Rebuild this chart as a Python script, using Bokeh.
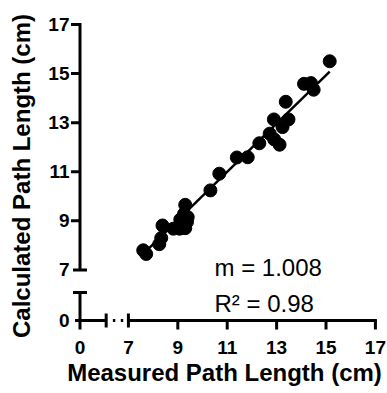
from bokeh.plotting import figure
from bokeh.models import FixedTicker, Label
from bokeh.embed import file_html
from bokeh.resources import INLINE

# ---------------- data ----------------
measured = [15.15, 14.11, 14.39, 14.50, 13.37, 12.89, 13.48, 13.24, 12.72, 12.90,
            13.12, 12.30, 11.83, 11.39, 10.68, 10.32, 9.30, 9.25, 9.10, 9.37,
            9.30, 9.07, 8.82, 8.38, 8.33, 8.25, 7.60, 7.72, 9.20, 9.40]
calculated = [15.50, 14.58, 14.61, 14.34, 13.85, 13.13, 13.13, 12.82, 12.55, 12.32,
              12.10, 12.16, 11.59, 11.58, 10.92, 10.24, 9.65, 9.28, 9.05, 8.95,
              8.70, 8.68, 8.68, 8.81, 8.30, 8.05, 7.80, 7.65, 8.85, 9.15]
fit_x = [7.60, 15.15]
fit_y = [7.65, 15.08]
x_ticks = [7, 9, 11, 13, 15, 17]
y_ticks = [7, 9, 11, 13, 15, 17]
zero_label = "0"
slope_text = "m = 1.008"
r2_text = "R\u00b2 = 0.98"
x_label = "Measured Path Length (cm)"
y_label = "Calculated Path Length (cm)"

# ---------------- layout ----------------
W, H = 387, 393
BL, BR, BT, BB = 70, 9, 21, 63
FW, FH = W - BL - BR, H - BT - BB
SX, SY = 24.7, 24.55          # px per unit
X0, Y0 = 5.04, 4.94           # plot position of the "0" of each broken axis
x_start = X0 - 9.5 / SX
x_end = x_start + FW / SX
y_start = Y0 - 10.0 / SY
y_end = y_start + FH / SY
XCAP, YCAP = 6.10, 6.08       # end of the short lower segments
DOTS = [6.42, 6.74]

def dx(px):
    return px / SX

def dy(px):
    return px / SY

def px2x(px):
    return x_start + (px - BL) / SX

def px2y(py):
    return y_start + (BT + FH - py) / SY

FONT = "Liberation Sans"
p = figure(width=W, height=H, x_range=(x_start, x_end), y_range=(y_start, y_end),
           output_backend="svg", toolbar_location=None,
           min_border_left=BL, min_border_right=BR, min_border_top=BT, min_border_bottom=BB)
p.outline_line_color = None
p.grid.visible = False
p.background_fill_color = "white"
p.border_fill_color = "white"

for ax in (p.xaxis[0], p.yaxis[0]):
    ax.axis_line_color = None
    ax.major_tick_line_color = None
    ax.minor_tick_line_color = None
    ax.major_tick_out = 0
    ax.major_tick_in = 0
    ax.major_label_text_font = FONT
    ax.major_label_text_font_style = "bold"
    ax.major_label_text_font_size = "19px"
    ax.major_label_text_color = "black"
    ax.axis_label_text_font = FONT
    ax.axis_label_text_font_style = "bold"
    ax.axis_label_text_font_size = "24px"
    ax.axis_label_text_color = "black"

p.xaxis.ticker = FixedTicker(ticks=[X0] + x_ticks)
p.xaxis.major_label_overrides = {X0: zero_label}
p.xaxis.major_label_standoff = 10
p.xaxis.axis_label = x_label
p.xaxis.axis_label_standoff = 2

p.yaxis.ticker = FixedTicker(ticks=[Y0] + y_ticks)
p.yaxis.major_label_overrides = {Y0: zero_label}
p.yaxis.major_label_standoff = 1
p.yaxis.axis_label = y_label
p.yaxis.axis_label_standoff = 10

# ---------------- broken axes (decoration) ----------------
LW = 3
TICK = 9
CAP = 7
x0s, y0s, x1s, y1s = [], [], [], []
def seg(a, b, c, d):
    x0s.append(a); y0s.append(b); x1s.append(c); y1s.append(d)

# y axis upper segment + ticks + break cap at 7
seg(X0, y_ticks[0], X0, y_ticks[-1] + dy(LW / 2))
for t in y_ticks[1:]:
    seg(X0 - dx(TICK), t, X0, t)
seg(X0 - dx(CAP), y_ticks[0], X0 + dx(CAP), y_ticks[0])
# y axis lower segment (continues down as the x "0" tick)
seg(X0, Y0 - dy(TICK), X0, YCAP)
seg(X0 - dx(CAP), YCAP, X0 + dx(CAP), YCAP)
seg(X0 - dx(5), Y0, X0, Y0)
# x axis upper segment + ticks + break cap at 7
seg(x_ticks[0], Y0, x_ticks[-1] + dx(LW / 2), Y0)
for t in x_ticks[1:]:
    seg(t, Y0 - dy(TICK), t, Y0)
seg(x_ticks[0], Y0 - dy(CAP), x_ticks[0], Y0 + dy(CAP))
# x axis lower segment
seg(X0, Y0, XCAP, Y0)
seg(XCAP, Y0 - dy(CAP), XCAP, Y0 + dy(CAP))
for d in DOTS:
    seg(d - dx(1.2), Y0, d + dx(1.2), Y0)

p.segment(x0=x0s, y0=y0s, x1=x1s, y1=y1s, line_color="black", line_width=LW,
          line_cap="butt")

# ---------------- data marks ----------------
p.line(fit_x, fit_y, line_color="black", line_width=2.5)
p.scatter(measured, calculated, size=13, fill_color="black", line_color="black")

# ---------------- annotations ----------------
for txt, py in ((slope_text, 266.7), (r2_text, 302.7)):
    p.add_layout(Label(x=px2x(214), y=px2y(py), text=txt, text_font=FONT,
                       text_font_size="24px", text_color="black",
                       text_baseline="alphabetic", text_align="left"))

open("out.html", "w").write(file_html(p, INLINE))
